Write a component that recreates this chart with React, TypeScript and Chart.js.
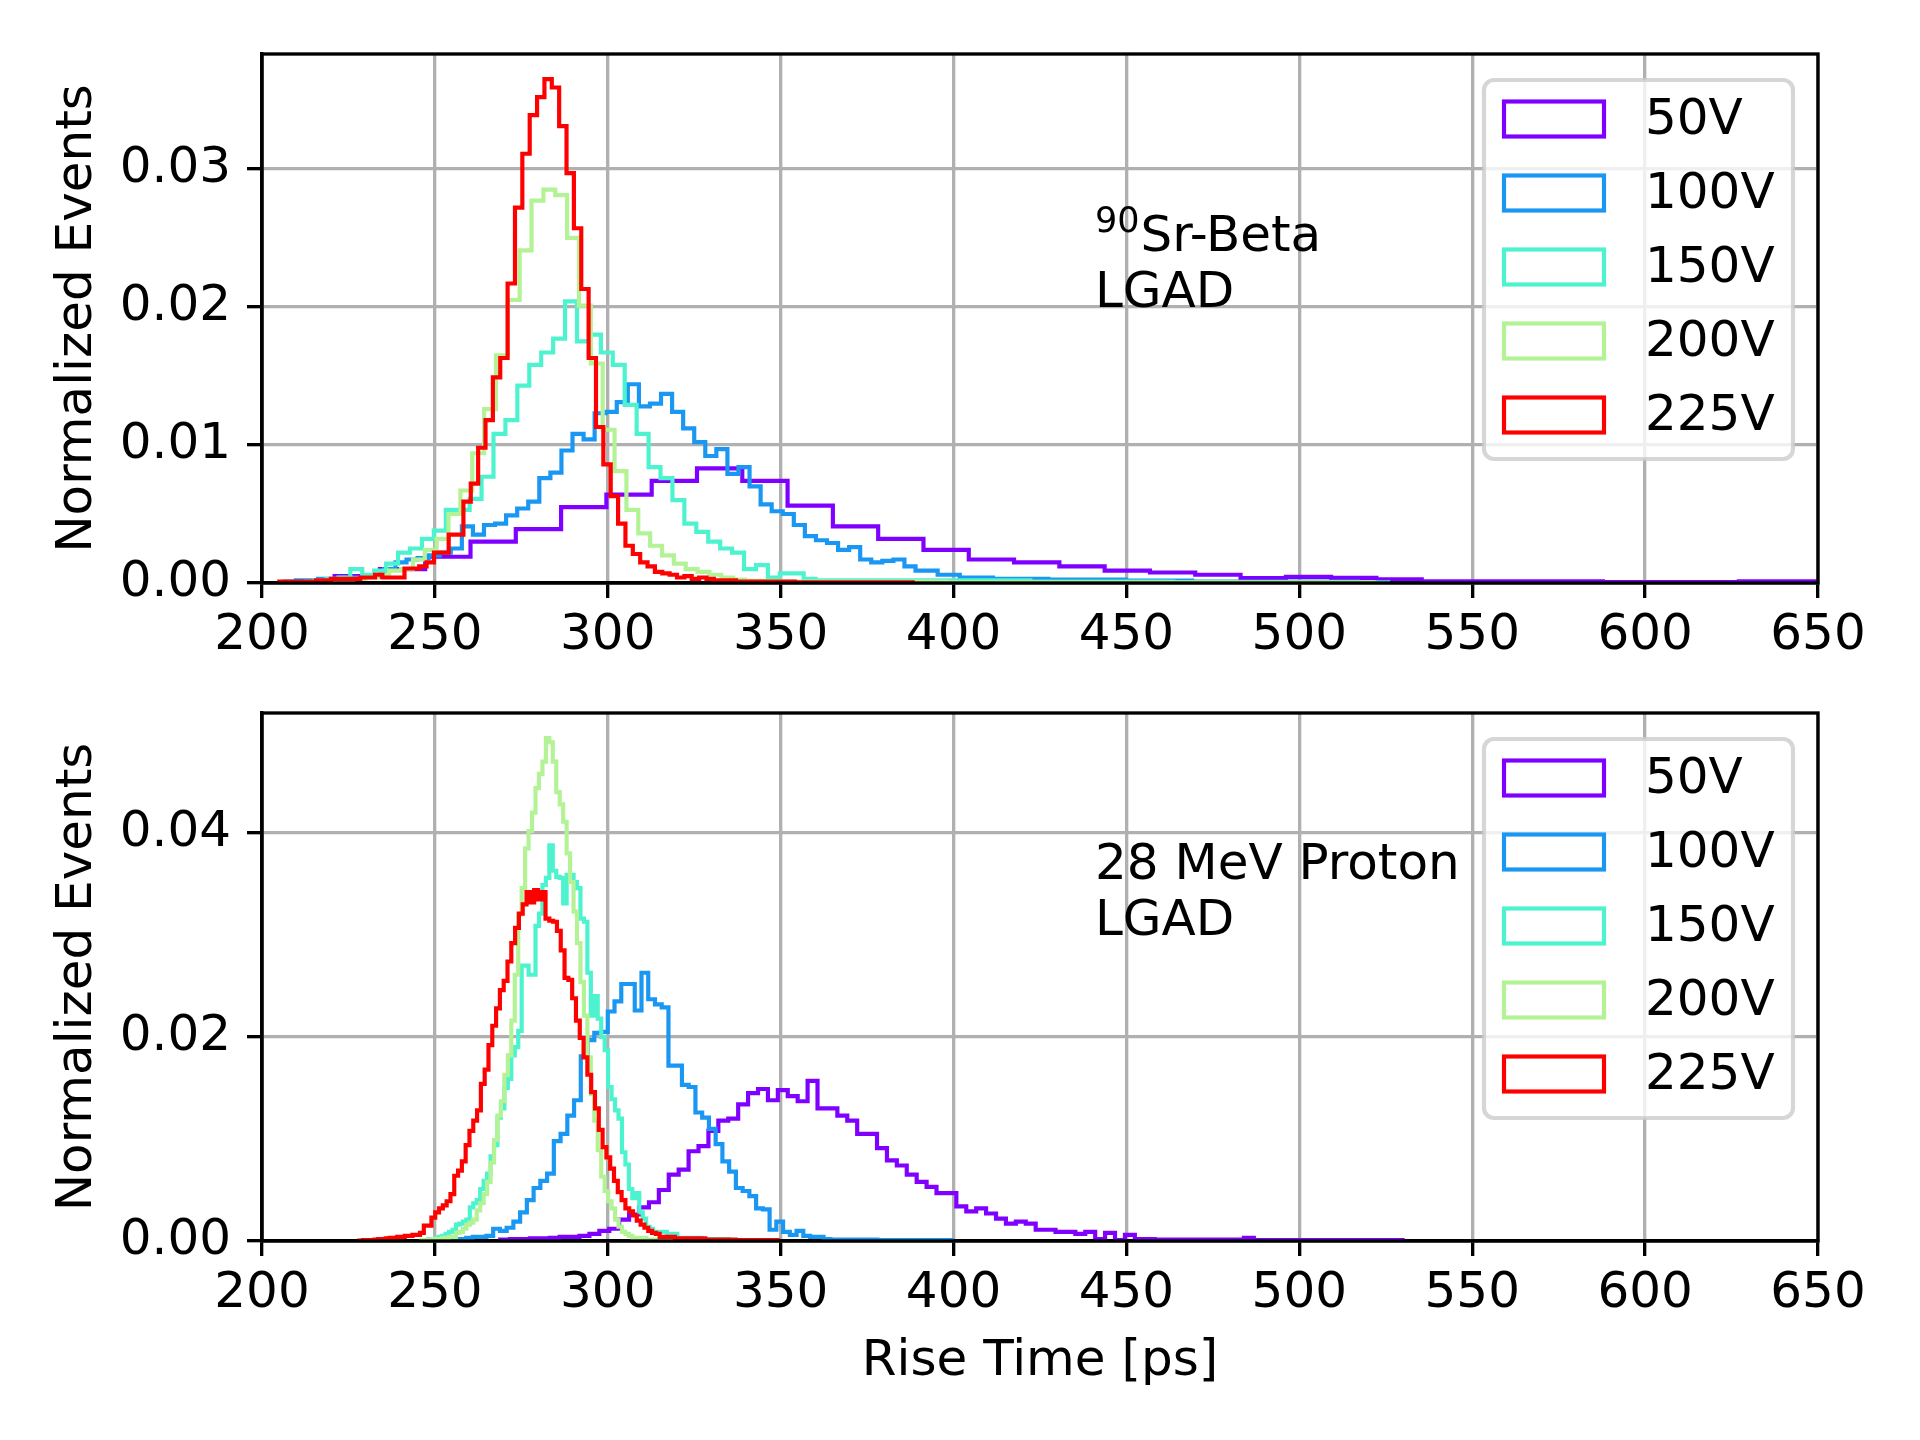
import React, { useEffect, useRef } from "react";
import { Chart, registerables } from "chart.js";

Chart.register(...registerables);

// ---------- labels / ticks ----------
const VOLTAGES = ["50V", "100V", "150V", "200V", "225V"];
const COLORS = ["#8000ff", "#1a96f3", "#4df3ce", "#b3f396", "#ff0000"];
const X_TICKS = [200, 250, 300, 350, 400, 450, 500, 550, 600, 650];
const Y_TICKS_SR = [0, 0.01, 0.02, 0.03];
const Y_TICKS_PROTON = [0, 0.02, 0.04];
const X_TITLE = "Rise Time [ps]";
const Y_TITLE = "Normalized Events";
const SR_TEXT_SUP = "90";
const SR_TEXT_LINES = ["Sr-Beta", "LGAD"];
const PROTON_TEXT_LINES = ["28 MeV Proton", "LGAD"];

// ---------- 90Sr-Beta histograms: [first bin edge (ps), bin width (ps)] and normalized counts ----------
const SR_BINS = [
  [221.0, 13.1],
  [206.6, 3.2],
  [215.2, 3.45],
  [212.78, 3.43],
  [205.0, 2.13],
];

const SR_50V = [
  0.0001, 0.0005, 0.001, 0.0019, 0.003, 0.0039, 0.0055, 0.0064, 0.0074, 0.0083,
  0.0074, 0.0056, 0.0041, 0.0032, 0.0024, 0.0017, 0.0015, 0.0012, 0.0009, 0.00076,
  0.0006, 0.00035, 0.00044, 0.00037, 0.00027, 0.00012, 0.00012, 0.00012, 0.00012, 0.00007,
  0.00007, 0.00007, 0.00012,
];

const SR_100V = [
  0.0001, 0.0001, 0.0002, 0.0002, 0.0003, 0.0003, 0.0004, 0.0004, 0.0005, 0.0005,
  0.001, 0.0015, 0.0017, 0.0018, 0.002, 0.0022, 0.0025, 0.0041, 0.0035, 0.0042,
  0.0043, 0.0049, 0.0054, 0.0059, 0.0076, 0.008, 0.0096, 0.0108, 0.0104, 0.0123,
  0.0124, 0.0131, 0.0144, 0.0128, 0.013, 0.0137, 0.0124, 0.0112, 0.0102, 0.0092,
  0.0097, 0.0079, 0.0084, 0.007, 0.0057, 0.0052, 0.005, 0.0042, 0.0034, 0.0031,
  0.0029, 0.0024, 0.0026, 0.0017, 0.0015, 0.0016, 0.0017, 0.0012, 0.0009, 0.0009,
  0.0006, 0.0006, 0.0004, 0.0004, 0.0004, 0.0003, 0.0003, 0.0003, 0.0003, 0.0003,
  0.00025, 0.00025, 0.00025, 0.00025, 0.00025, 0.00025, 0.00025, 0.00017, 0.00017, 0.00017,
  0.00017, 0.00017, 0.00017, 0.0001, 0.0001, 0.0001, 0.0001, 0.0001, 0.0001, 0.0001,
  0.0001, 0.0001, 0.0001, 0.0001, 0.0001, 0.0001, 0.0001,
];

const SR_150V = [
  0.0001, 0.0002, 0.0003, 0.0004, 0.001, 0.0006, 0.0009, 0.0014, 0.0022, 0.0025,
  0.0032, 0.0038, 0.0053, 0.0053, 0.0061, 0.0077, 0.0108, 0.0118, 0.0143, 0.0158,
  0.0167, 0.0177, 0.0204, 0.0175, 0.018, 0.0167, 0.0158, 0.0129, 0.0108, 0.0084,
  0.0076, 0.006, 0.0043, 0.0037, 0.003, 0.0025, 0.0022, 0.001, 0.0013, 0.0004,
  0.0007, 0.0007, 0.0003, 0.0002, 0.0002, 0.0002, 0.0002, 0.0002, 0.0002, 0.0002,
  0.0002, 0.0002, 0.0002, 0.0002, 0.0002, 0.0002, 0.0002, 0.0002, 0.0002, 0.0002,
  0.0002, 0.0001, 0.0001, 0.0001, 0.0001, 0.0001, 0.0001, 0.0001, 0.0001, 0.0001,
  0.0001, 0.0001, 0.0001, 0.00005, 0.00005, 0.00005, 0.00005, 0.00005, 0.00005, 0.00005,
  0.00005, 0.00005, 0.00005, 0.00005, 0.00005, 0.00005, 0.00005, 0.00005, 0.00005, 0.00005,
];

const SR_200V = [
  0.00005, 0.0001, 0.0001, 0.00015, 0.0002, 0.0003, 0.0004, 0.0006, 0.0009, 0.001,
  0.0017, 0.0024, 0.0032, 0.005, 0.0067, 0.0094, 0.0126, 0.0165, 0.0205, 0.0241,
  0.0277, 0.0285, 0.0281, 0.025, 0.0201, 0.0159, 0.0111, 0.0081, 0.0053, 0.0036,
  0.0027, 0.002, 0.0014, 0.001, 0.0008, 0.0006, 0.0004, 0.00025, 0.00015, 0.00015,
  0.00015, 0.0001, 0.0001, 0.0001, 0.0001, 0.0001, 0.0001, 0.0001, 0.0001, 0.0001,
  0.0001, 0.0001, 0.0001, 0.0001, 0.0001, 0.00004, 0.00004, 0.00004, 0.00004, 0.00004,
  0.00004, 0.00004, 0.00004, 0.00004, 0.00004, 0.00004, 0.00004, 0.00004, 0.00004, 0.00004,
  0.00004, 0.00004, 0.00004, 0.00004, 0.00004, 0.00004, 0.00004, 0.00004, 0.00004, 0.00004,
  0.00004, 0.00004, 0.00004, 0.00004, 0.00004, 0.00004, 0.00004, 0.00004, 0.00004, 0.00004,
];

const SR_225V = [
  0.0001, 0.0001, 0.0001, 0.0001, 0.0001, 0.0001, 0.0002, 0.0002, 0.0003, 0.0003,
  0.0003, 0.0003, 0.0004, 0.0004, 0.0006, 0.0004, 0.0004, 0.0004, 0.00105, 0.00105,
  0.0012, 0.0015, 0.0022, 0.0022, 0.0035, 0.0035, 0.0059, 0.0072, 0.0098, 0.0118,
  0.0149, 0.0163, 0.0217, 0.0272, 0.0311, 0.0339, 0.0352, 0.0365, 0.0359, 0.0331,
  0.0297, 0.0257, 0.0213, 0.0163, 0.0113, 0.0086, 0.0063, 0.0043, 0.0027, 0.0021,
  0.0015, 0.0012, 0.0008, 0.0007, 0.0006, 0.0004, 0.0005, 0.0003, 0.0004, 0.0003,
  0.0002, 0.0002, 0.0002, 0.0001, 0.0001, 0.0001, 0.0001, 0.0001, 0.0001, 0.0001,
  0.0001, 0.00005, 0.00005, 0.00005, 0.00005, 0.00005, 0.00005, 0.00005, 0.00005, 0.00005,
  0.00005, 0.00005, 0.00005, 0.00005, 0.00005, 0.00005,
];

// ---------- 28 MeV proton histograms ----------
const PROTON_BINS = [
  [268.88, 2.868],
  [251.25, 1.95],
  [246.1, 1.0],
  [246.1, 1.0],
  [228.1, 1.1],
];

const PROTON_50V = [
  0.0001, 0.00015, 0.0002, 0.0002, 0.00025, 0.00025, 0.0003, 0.0004, 0.0004, 0.0005,
  0.0007, 0.001, 0.0012, 0.0021, 0.0026, 0.0033, 0.0038, 0.005, 0.0065, 0.007,
  0.0088, 0.0093, 0.0108, 0.0118, 0.012, 0.0134, 0.0145, 0.0149, 0.0138, 0.0148,
  0.0142, 0.0137, 0.0157, 0.013, 0.013, 0.0123, 0.0118, 0.0105, 0.0105, 0.0091,
  0.0079, 0.0074, 0.0065, 0.0058, 0.0053, 0.0047, 0.0047, 0.0034, 0.0029, 0.0032,
  0.0027, 0.0022, 0.0017, 0.0019, 0.0017, 0.0011, 0.0011, 0.0009, 0.0009, 0.0007,
  0.0009, 0.0002, 0.0008, 0.0001, 0.0006, 0.0002, 0.0002, 0.00015, 0.00015, 0.00015,
  0.00015, 0.00015, 0.00015, 0.00015, 0.00015, 0.00015, 0.0003, 0.0001, 0.0001, 0.0001,
  0.0001, 0.0001, 0.0001, 0.0001, 0.0001, 0.0001, 0.0001, 0.0001, 0.0001, 0.0001,
  0.0001,
];

const PROTON_100V = [
  0.00005, 0.0001, 0.0001, 0.0002, 0.0002, 0.0003, 0.0004, 0.0004, 0.0005, 0.0012,
  0.001, 0.0013, 0.0019, 0.0028, 0.004, 0.0052, 0.0059, 0.0066, 0.0098, 0.0105,
  0.0123, 0.0138, 0.0181, 0.0197, 0.0204, 0.0205, 0.0225, 0.0235, 0.0252, 0.0252,
  0.0226, 0.0263, 0.0237, 0.0232, 0.0229, 0.0172, 0.0172, 0.0153, 0.0151, 0.0126,
  0.0121, 0.011, 0.0095, 0.0078, 0.0068, 0.0052, 0.0049, 0.0044, 0.0032, 0.0031,
  0.0011, 0.0019, 0.0009, 0.0006, 0.001, 0.0005, 0.0004, 0.0004, 0.0002, 0.00015,
  0.00015, 0.00015, 0.00015, 0.00015, 0.00015, 0.00015, 0.0001, 0.0001, 0.0001, 0.0001,
  0.0001, 0.0001, 0.0001, 0.0001, 0.0001, 0.0001,
];

const PROTON_150V = [
  0.00005, 0.0001, 0.0001, 0.0002, 0.0002, 0.0003, 0.0004, 0.0005, 0.0007, 0.0009,
  0.0011, 0.0016, 0.0017, 0.0019, 0.0021, 0.0033, 0.0037, 0.004, 0.0051, 0.0059,
  0.0066, 0.0083, 0.0094, 0.0121, 0.013, 0.015, 0.0159, 0.0182, 0.019, 0.0206,
  0.027, 0.027, 0.0261, 0.0261, 0.0309, 0.0321, 0.0349, 0.0356, 0.0388, 0.0363,
  0.0357, 0.0356, 0.0331, 0.0359, 0.0359, 0.0352, 0.0346, 0.0316, 0.0313, 0.0263,
  0.0221, 0.024, 0.0218, 0.02, 0.0187, 0.0151, 0.0139, 0.0128, 0.012, 0.0087,
  0.0075, 0.0051, 0.0042, 0.0047, 0.0028, 0.0022, 0.0014, 0.0012, 0.0009, 0.0009,
  0.0009, 0.0009, 0.0007, 0.0007, 0.0007, 0.0003, 0.0003, 0.0003, 0.0003, 0.0003,
  0.0003, 0.0003, 0.0002, 0.0002, 0.0002, 0.0002, 0.0002, 0.0002, 0.0002, 0.0002,
  0.0001, 0.0001, 0.0001, 0.0001, 0.0001, 0.0001, 0.0001, 0.0001,
];

const PROTON_200V = [
  0.00005, 0.0001, 0.0001, 0.00015, 0.0002, 0.0002, 0.0002, 0.0003, 0.0003, 0.0004,
  0.0004, 0.0008, 0.0009, 0.0012, 0.0016, 0.0018, 0.0021, 0.003, 0.0037, 0.0046,
  0.0058, 0.0077, 0.0099, 0.0123, 0.0137, 0.0163, 0.0182, 0.0216, 0.0261, 0.032,
  0.0346, 0.0385, 0.0402, 0.042, 0.0444, 0.0458, 0.047, 0.0493, 0.0489, 0.047,
  0.044, 0.0428, 0.0411, 0.038, 0.0352, 0.0323, 0.0292, 0.0254, 0.0221, 0.018,
  0.0144, 0.0118, 0.0089, 0.0063, 0.0049, 0.0039, 0.0032, 0.0021, 0.0014, 0.0009,
  0.0007, 0.0005, 0.0003, 0.0003, 0.0003, 0.0003, 0.00015, 0.00015, 0.00015, 0.00015,
  0.00015, 0.00015, 0.0001, 0.0001, 0.0001, 0.0001, 0.0001, 0.0001, 0.0001, 0.0001,
];

const PROTON_225V = [
  0.00005, 0.00005, 0.0001, 0.0001, 0.0001, 0.00015, 0.0002, 0.0002, 0.00025, 0.0003,
  0.0003, 0.0004, 0.0004, 0.0005, 0.0005, 0.0006, 0.0006, 0.0008, 0.0015, 0.0015,
  0.0023, 0.0028, 0.0032, 0.0035, 0.0039, 0.0046, 0.0064, 0.0069, 0.0078, 0.0094,
  0.0108, 0.0118, 0.0128, 0.0154, 0.0168, 0.0192, 0.0211, 0.0228, 0.0246, 0.0255,
  0.0274, 0.0292, 0.0307, 0.0321, 0.033, 0.0342, 0.0332, 0.0344, 0.0335, 0.0342,
  0.0316, 0.0314, 0.0313, 0.0304, 0.0285, 0.0258, 0.0256, 0.0238, 0.0216, 0.0199,
  0.018, 0.0163, 0.0146, 0.013, 0.0109, 0.0092, 0.0082, 0.0071, 0.0059, 0.0048,
  0.004, 0.0032, 0.0029, 0.0025, 0.002, 0.0016, 0.0013, 0.001, 0.0008, 0.0007,
  0.0004, 0.0004, 0.0004, 0.0004, 0.00025, 0.00025, 0.00025, 0.00025, 0.00025, 0.00025,
  0.00025, 0.00025, 0.00015, 0.00015, 0.00015, 0.00015, 0.00015, 0.00015, 0.00015, 0.00015,
  0.0001, 0.0001, 0.0001, 0.0001, 0.0001, 0.0001, 0.0001, 0.0001, 0.0001, 0.0001,
];

const SR_SERIES = [SR_50V, SR_100V, SR_150V, SR_200V, SR_225V];
const PROTON_SERIES = [PROTON_50V, PROTON_100V, PROTON_150V, PROTON_200V, PROTON_225V];

// ---------- styling ----------
const FONT = "'DejaVu Sans', 'Liberation Sans', sans-serif";
const FS = 50;
const LW_GRID = 3.33;
const LW_HIST = 4.17;

function histPoints(bins: number[], values: number[]) {
  const [start, width] = bins;
  const pts: { x: number; y: number }[] = [{ x: start, y: 0 }];
  values.forEach((v, i) => pts.push({ x: start + i * width, y: v }));
  const end = start + values.length * width;
  pts.push({ x: end, y: values[values.length - 1] });
  pts.push({ x: end, y: 0 });
  return pts;
}

type PanelCfg = {
  series: number[][];
  bins: number[][];
  yTicks: number[];
  padTop: number;
  xAxisHeight: number;
  showXTitle: boolean;
  text: { sup?: string; lines: string[]; dx: number; firstBaseline: number };
};

function overlayPlugin(cfg: PanelCfg) {
  return {
    id: "overlay",
    afterDatasetsDraw(chart: any) {
      const { ctx, chartArea: ca } = chart;
      ctx.save();
      // full frame (spines)
      ctx.strokeStyle = "#000";
      ctx.lineWidth = LW_GRID;
      ctx.strokeRect(ca.left, ca.top, ca.right - ca.left, ca.bottom - ca.top);

      // annotation text
      ctx.fillStyle = "#000";
      ctx.textBaseline = "alphabetic";
      ctx.textAlign = "left";
      const tx = ca.left + cfg.text.dx;
      let ty = ca.top + cfg.text.firstBaseline;
      cfg.text.lines.forEach((line, i) => {
        let x = tx;
        if (i === 0 && cfg.text.sup) {
          ctx.font = `${FS * 0.7}px ${FONT}`;
          ctx.fillText(cfg.text.sup, x, ty - 19);
          x += ctx.measureText(cfg.text.sup).width + 1;
        }
        ctx.font = `${FS}px ${FONT}`;
        ctx.fillText(line, x, ty);
        ty += 56;
      });

      // legend
      const boxW = 309;
      const boxH = 379;
      const bx = ca.right - 25 - boxW;
      const by = ca.top + 26;
      const r = 10;
      ctx.beginPath();
      ctx.moveTo(bx + r, by);
      ctx.lineTo(bx + boxW - r, by);
      ctx.arcTo(bx + boxW, by, bx + boxW, by + r, r);
      ctx.lineTo(bx + boxW, by + boxH - r);
      ctx.arcTo(bx + boxW, by + boxH, bx + boxW - r, by + boxH, r);
      ctx.lineTo(bx + r, by + boxH);
      ctx.arcTo(bx, by + boxH, bx, by + boxH - r, r);
      ctx.lineTo(bx, by + r);
      ctx.arcTo(bx, by, bx + r, by, r);
      ctx.closePath();
      ctx.fillStyle = "rgba(255,255,255,0.8)";
      ctx.fill();
      ctx.strokeStyle = "rgba(204,204,204,0.8)";
      ctx.lineWidth = LW_HIST;
      ctx.stroke();

      ctx.font = `${FS}px ${FONT}`;
      ctx.textBaseline = "middle";
      VOLTAGES.forEach((lab, i) => {
        const cy = by + 39 + 74 * i;
        ctx.strokeStyle = COLORS[i];
        ctx.lineWidth = LW_HIST;
        ctx.strokeRect(bx + 20, cy - 17.5, 100, 35);
        ctx.fillStyle = "#000";
        ctx.fillText(lab, bx + 161, cy + 2);
      });
      ctx.restore();
    },
  };
}

function makeConfig(cfg: PanelCfg): any {
  const maxVal = Math.max(...cfg.series.map((s) => Math.max(...s)));
  return {
    type: "line",
    data: {
      datasets: cfg.series.map((vals, i) => ({
        label: VOLTAGES[i],
        data: histPoints(cfg.bins[i], vals),
        borderColor: COLORS[i],
        backgroundColor: COLORS[i],
        borderWidth: LW_HIST,
        stepped: "after",
        pointRadius: 0,
        pointHoverRadius: 0,
        fill: false,
        tension: 0,
        order: VOLTAGES.length - 1 - i,
        borderJoinStyle: "miter",
      })),
    },
    options: {
      animation: false,
      responsive: false,
      maintainAspectRatio: false,
      devicePixelRatio: 1,
      events: [],
      layout: {
        autoPadding: false,
        padding: { left: 0, right: 102, top: cfg.padTop, bottom: 0 },
      },
      plugins: {
        legend: { display: false },
        tooltip: { enabled: false },
      },
      scales: {
        x: {
          type: "linear",
          min: 200,
          max: 650,
          afterBuildTicks: (scale: any) => {
            scale.ticks = X_TICKS.map((v) => ({ value: v }));
          },
          afterFit: (scale: any) => {
            scale.height = cfg.xAxisHeight;
            scale.paddingLeft = 0;
            scale.paddingRight = 0;
          },
          ticks: {
            color: "#000",
            font: { family: FONT, size: FS },
            padding: 8,
            maxRotation: 0,
            autoSkip: false,
            callback: (v: number) => String(v),
          },
          grid: {
            color: "#b0b0b0",
            lineWidth: LW_GRID,
            tickColor: "#000",
            tickLength: 15,
            tickWidth: LW_GRID,
          },
          border: { display: true, color: "#000", width: LW_GRID },
          title: {
            display: cfg.showXTitle,
            text: X_TITLE,
            color: "#000",
            font: { family: FONT, size: FS },
            padding: { top: 0, bottom: 48 },
          },
        },
        y: {
          type: "linear",
          min: 0,
          max: maxVal * 1.05,
          afterBuildTicks: (scale: any) => {
            scale.ticks = cfg.yTicks.map((v) => ({ value: v }));
          },
          afterFit: (scale: any) => {
            scale.width = 262;
            scale.paddingTop = 0;
            scale.paddingBottom = 0;
          },
          ticks: {
            color: "#000",
            font: { family: FONT, size: FS },
            padding: 16,
            autoSkip: false,
            callback: (v: number) => Number(v).toFixed(2),
          },
          grid: {
            color: "#b0b0b0",
            lineWidth: LW_GRID,
            tickColor: "#000",
            tickLength: 15,
            tickWidth: LW_GRID,
          },
          border: { display: true, color: "#000", width: LW_GRID },
          title: {
            display: true,
            text: Y_TITLE,
            color: "#000",
            font: { family: FONT, size: FS },
            padding: { top: 48, bottom: 0 },
          },
        },
      },
    },
    plugins: [overlayPlugin(cfg)],
  };
}

const TOP_CFG: PanelCfg = {
  series: SR_SERIES,
  bins: SR_BINS,
  yTicks: Y_TICKS_SR,
  padTop: 54,
  xAxisHeight: 700 - 583,
  showXTitle: false,
  text: { sup: SR_TEXT_SUP, lines: SR_TEXT_LINES, dx: 833, firstBaseline: 197 },
};

const BOTTOM_CFG: PanelCfg = {
  series: PROTON_SERIES,
  bins: PROTON_BINS,
  yTicks: Y_TICKS_PROTON,
  padTop: 13,
  xAxisHeight: 199,
  showXTitle: true,
  text: { lines: PROTON_TEXT_LINES, dx: 833, firstBaseline: 166 },
};

export default function App() {
  const topRef = useRef<HTMLCanvasElement | null>(null);
  const botRef = useRef<HTMLCanvasElement | null>(null);

  useEffect(() => {
    const c1 = new Chart(topRef.current as HTMLCanvasElement, makeConfig(TOP_CFG));
    const c2 = new Chart(botRef.current as HTMLCanvasElement, makeConfig(BOTTOM_CFG));
    return () => {
      c1.destroy();
      c2.destroy();
    };
  }, []);

  return (
    <div
      style={{
        position: "absolute",
        left: 0,
        top: 0,
        width: 1920,
        height: 1440,
        background: "#fff",
      }}
    >
      <canvas
        ref={topRef}
        width={1920}
        height={700}
        style={{ display: "block", width: 1920, height: 700 }}
      />
      <canvas
        ref={botRef}
        width={1920}
        height={740}
        style={{ display: "block", width: 1920, height: 740 }}
      />
    </div>
  );
}
